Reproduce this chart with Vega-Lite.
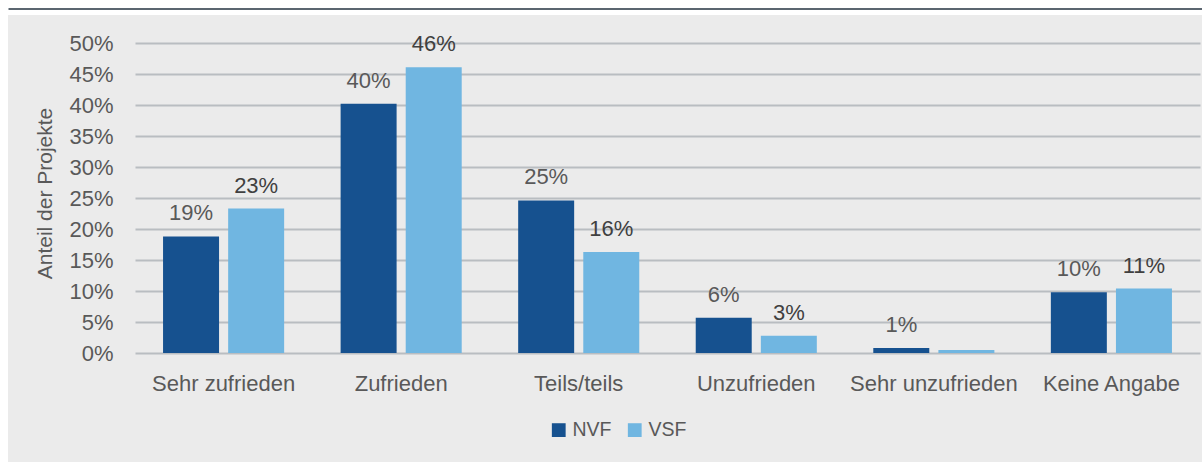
{
  "$schema": "https://vega.github.io/schema/vega-lite/v6.json",
  "width": 1194,
  "height": 447,
  "autosize": {"type": "none"},
  "padding": {"left": 8, "top": 15, "right": 0, "bottom": 0},
  "background": "white",
  "config": {
    "view": {"fill": "#ebebeb", "stroke": null},
    "font": "Liberation Sans",
    "axis": {"labelFont": "Liberation Sans", "titleFont": "Liberation Sans"},
    "legend": {"labelFont": "Liberation Sans"}
  },
  "data": {
    "values": [
      {"kategorie": "Sehr zufrieden", "serie": "NVF", "anteil": 0.188, "label": "19%"},
      {"kategorie": "Sehr zufrieden", "serie": "VSF", "anteil": 0.233, "label": "23%"},
      {"kategorie": "Zufrieden", "serie": "NVF", "anteil": 0.402, "label": "40%"},
      {"kategorie": "Zufrieden", "serie": "VSF", "anteil": 0.461, "label": "46%"},
      {"kategorie": "Teils/teils", "serie": "NVF", "anteil": 0.246, "label": "25%"},
      {"kategorie": "Teils/teils", "serie": "VSF", "anteil": 0.163, "label": "16%"},
      {"kategorie": "Unzufrieden", "serie": "NVF", "anteil": 0.057, "label": "6%"},
      {"kategorie": "Unzufrieden", "serie": "VSF", "anteil": 0.028, "label": "3%"},
      {"kategorie": "Sehr unzufrieden", "serie": "NVF", "anteil": 0.008, "label": "1%"},
      {"kategorie": "Sehr unzufrieden", "serie": "VSF", "anteil": 0.005, "label": ""},
      {"kategorie": "Keine Angabe", "serie": "NVF", "anteil": 0.098, "label": "10%"},
      {"kategorie": "Keine Angabe", "serie": "VSF", "anteil": 0.104, "label": "11%"}
    ]
  },
  "layer": [
    {
      "encoding": {
        "x": {
          "field": "kategorie",
          "type": "nominal",
          "sort": ["Sehr zufrieden", "Zufrieden", "Teils/teils", "Unzufrieden", "Sehr unzufrieden", "Keine Angabe"],
          "scale": {"range": [127, 1192], "paddingInner": 0.318, "paddingOuter": 0.158},
          "axis": {
            "orient": "bottom",
            "offset": -109,
            "title": null,
            "domain": false,
            "ticks": false,
            "grid": false,
            "labelAngle": 0,
            "labelFontSize": 22,
            "labelColor": "#595959",
            "labelPadding": 20
          }
        },
        "xOffset": {
          "field": "serie",
          "type": "nominal",
          "sort": ["NVF", "VSF"],
          "scale": {"paddingInner": 0.14, "paddingOuter": 0}
        },
        "y": {
          "field": "anteil",
          "type": "quantitative",
          "scale": {"domain": [0, 0.5], "range": [338, 28], "nice": false, "zero": true},
          "axis": {
            "orient": "left",
            "offset": -127,
            "values": [0, 0.05, 0.1, 0.15, 0.2, 0.25, 0.3, 0.35, 0.4, 0.45, 0.5],
            "format": ".0%",
            "domain": false,
            "ticks": false,
            "grid": true,
            "gridColor": "#b9bdc1",
            "gridWidth": 2,
            "labelFontSize": 22,
            "labelColor": "#595959",
            "labelPadding": 22,
            "title": "Anteil der Projekte",
            "titleFontSize": 21,
            "titleFontWeight": "normal",
            "titleColor": "#595959",
            "titleAngle": -90,
            "titleAlign": "center",
            "titleBaseline": "middle",
            "titleX": -90,
            "titleY": 178
          }
        }
      },
      "layer": [
        {
          "mark": {"type": "bar"},
          "encoding": {
            "color": {
              "field": "serie",
              "type": "nominal",
              "sort": ["NVF", "VSF"],
              "scale": {"domain": ["NVF", "VSF"], "range": ["#16518f", "#70b6e1"]},
              "legend": {
                "title": null,
                "orient": "none",
                "direction": "horizontal",
                "legendX": 541,
                "legendY": 405,
                "symbolType": "square",
                "symbolSize": 190,
                "symbolStrokeWidth": 0,
                "labelFontSize": 19.5,
                "labelColor": "#595959",
                "labelOffset": 4,
                "columnPadding": 13
              }
            }
          }
        },
        {
          "mark": {"type": "text", "baseline": "alphabetic", "dy": -16, "fontSize": 22},
          "encoding": {
            "text": {"field": "label"},
            "color": {
              "condition": {"test": "datum.serie === 'VSF'", "value": "#404040"},
              "value": "#595959"
            }
          }
        }
      ]
    },
    {
      "mark": {"type": "rule", "strokeOpacity": 0},
      "encoding": {
        "x": {
          "datum": 0,
          "type": "quantitative",
          "scale": {"domain": [0, 1]},
          "axis": {
            "orient": "top",
            "offset": 6.5,
            "domainColor": "#5b6670",
            "domainWidth": 2,
            "labels": false,
            "ticks": false,
            "grid": false,
            "title": null
          }
        }
      }
    }
  ],
  "resolve": {"scale": {"x": "independent"}, "axis": {"x": "independent"}}
}
